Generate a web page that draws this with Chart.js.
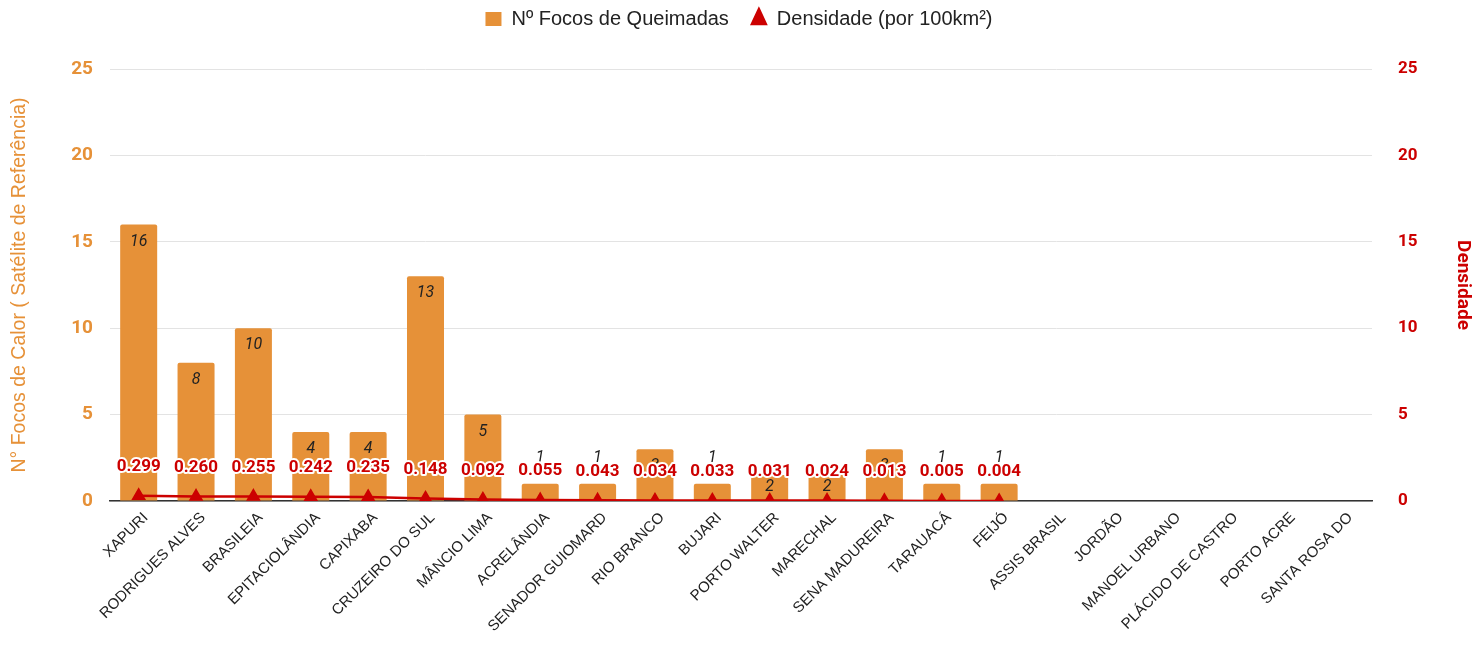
<!DOCTYPE html>
<html>
<head>
<meta charset="utf-8">
<script src="https://cdn.jsdelivr.net/npm/chart.js@4.4.1/dist/chart.umd.min.js"></script>
<style>
    html, body { margin: 0; padding: 0; background: #fff; }
    #wrap { width: 1478px; height: 647px; position: relative; }
</style>
</head>
<body>
<div id="wrap"><canvas id="chart"></canvas></div>
<script>
const municipios = [
    'XAPURI', 'RODRIGUES ALVES', 'BRASILEIA', 'EPITACIOLÂNDIA', 'CAPIXABA',
    'CRUZEIRO DO SUL', 'MÂNCIO LIMA', 'ACRELÂNDIA', 'SENADOR GUIOMARD', 'RIO BRANCO',
    'BUJARI', 'PORTO WALTER', 'MARECHAL', 'SENA MADUREIRA', 'TARAUACÁ', 'FEIJÓ',
    'ASSIS BRASIL', 'JORDÃO', 'MANOEL URBANO', 'PLÁCIDO DE CASTRO', 'PORTO ACRE', 'SANTA ROSA DO'
];
const focos = [16, 8, 10, 4, 4, 13, 5, 1, 1, 3, 1, 1.5, 1.5, 3, 1, 1, 0, 0, 0, 0, 0, 0];
const densidade = [0.299, 0.260, 0.255, 0.242, 0.235, 0.148, 0.092, 0.055, 0.043, 0.034,
    0.033, 0.031, 0.024, 0.013, 0.005, 0.004, null, null, null, null, null, null];
const yTicks = [0, 5, 10, 15, 20, 25];

const ORANGE = '#e69138';
const RED = '#cc0000';
const FONT = 'Roboto, "Noto Sans", sans-serif';
const SANS = '"Liberation Sans", Arial, sans-serif';

// push the plot area down below the legend, and lift the legend itself a bit
const legendSpace = {
    id: 'legendSpace',
    beforeInit: (chart) => {
        const legend = chart.legend;
        const origFit = legend.fit;
        legend.fit = function () {
            origFit.bind(legend)();
            this.height = 69;
        };
        const origDraw = legend.draw;
        legend.draw = function () {
            const ctx = chart.ctx;
            ctx.save();
            ctx.translate(0, -13);
            origDraw.bind(legend)();
            ctx.restore();
        };
    }
};

// values written on the bars and above the density points
const valueLabels = {
    id: 'valueLabels',
    afterDatasetsDraw: (chart) => {
        const ctx = chart.ctx;
        const barMeta = chart.getDatasetMeta(0);
        const lineMeta = chart.getDatasetMeta(1);
        ctx.save();
        ctx.textAlign = 'center';
        ctx.textBaseline = 'middle';

        ctx.font = 'italic 16px ' + FONT;
        ctx.fillStyle = '#222';
        barMeta.data.forEach((bar, i) => {
            const v = focos[i];
            if (!v) return;
            const h = bar.base - bar.y;
            let y;
            if (h < 20) y = bar.y - 26;
            else y = bar.y + Math.min(17, h * 0.45);
            ctx.fillText(String(Math.round(v)), bar.x, y);
        });

        ctx.font = 'bold 17px ' + FONT;
        ctx.lineJoin = 'round';
        lineMeta.data.forEach((pt, i) => {
            const v = densidade[i];
            if (v === null) return;
            const y = pt.y - 29;
            ctx.lineWidth = 4;
            ctx.strokeStyle = '#fff';
            ctx.strokeText(v.toFixed(3), pt.x, y);
            ctx.fillStyle = RED;
            ctx.fillText(v.toFixed(3), pt.x, y);
        });
        ctx.restore();
    }
};

new Chart(document.getElementById('chart'), {
    type: 'bar',
    data: {
        labels: municipios,
        datasets: [{
            type: 'bar',
            label: 'Nº Focos de Queimadas',
            data: focos,
            backgroundColor: ORANGE,
            borderRadius: 2,
            borderSkipped: 'bottom',
            barPercentage: 0.645,
            categoryPercentage: 1,
            pointStyle: 'rect',
            yAxisID: 'y',
            order: 2
        }, {
            type: 'line',
            label: 'Densidade (por 100km²)',
            data: densidade,
            borderColor: RED,
            backgroundColor: RED,
            borderWidth: 2.5,
            pointStyle: 'triangle',
            pointRadius: 6,
            pointHoverRadius: 6,
            spanGaps: false,
            yAxisID: 'y1',
            order: 1
        }]
    },
    options: {
        responsive: true,
        maintainAspectRatio: false,
        animation: false,
        layout: { padding: { top: 0 } },
        plugins: {
            legend: {
                position: 'top',
                labels: {
                    usePointStyle: true,
                    pointStyleWidth: 16,
                    boxHeight: 14,
                    padding: 22,
                    color: '#222',
                    font: { family: SANS, size: 20 },
                    sort: (a, b) => a.datasetIndex - b.datasetIndex
                }
            },
            tooltip: { enabled: false }
        },
        scales: {
            x: {
                grid: { display: false },
                border: { display: true, color: '#333', width: 1.5 },
                ticks: {
                    color: '#222',
                    font: { family: SANS, size: 15 },
                    maxRotation: 45,
                    minRotation: 45,
                    autoSkip: false,
                    padding: 0,
                    labelOffset: 7
                },
                afterFit: (scale) => { scale.height = 146; }
            },
            y: {
                position: 'left',
                min: 0,
                max: 25,
                afterBuildTicks: (scale) => { scale.ticks = yTicks.map(v => ({ value: v })); },
                grid: { color: '#e3e3e3', drawTicks: false },
                border: { display: false },
                ticks: {
                    color: ORANGE,
                    padding: 17,
                    font: { family: FONT, size: 19, weight: 'bold' }
                },
                title: {
                    display: true,
                    text: 'N° Focos de Calor ( Satélite de Referência)',
                    color: ORANGE,
                    padding: { top: 8, bottom: 4 },
                    font: { family: SANS, size: 19.5 }
                },
                afterFit: (scale) => { scale.width = 110; }
            },
            y1: {
                position: 'right',
                min: 0,
                max: 25,
                afterBuildTicks: (scale) => { scale.ticks = yTicks.map(v => ({ value: v })); },
                grid: { display: false },
                border: { display: false },
                ticks: {
                    color: RED,
                    padding: 18,
                    font: { family: FONT, size: 17, weight: 'bold' }
                },
                title: {
                    display: true,
                    text: 'Densidade',
                    color: RED,
                    padding: { top: 4, bottom: 8 },
                    font: { family: FONT, size: 19, weight: 'bold' }
                },
                afterFit: (scale) => { scale.width = 106; }
            }
        }
    },
    plugins: [legendSpace, valueLabels]
});
</script>
</body>
</html>
